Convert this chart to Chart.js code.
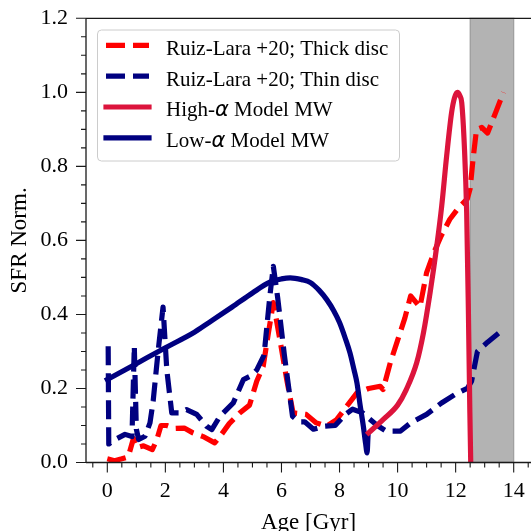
<!DOCTYPE html>
<html><head><meta charset="utf-8">
<script src="https://cdn.jsdelivr.net/npm/chart.js@4"></script>
<style>html,body{margin:0;padding:0;background:#fff;} canvas{display:block;}</style>
</head><body>
<canvas id="c" width="531" height="531"></canvas>
<script>
// ---- data ----
const thickAge = [0, 0.25, 0.5, 0.72, 0.9, 1.02, 1.25, 1.55, 1.7, 1.85, 2.05, 2.35, 2.65, 2.95, 3.3, 3.7, 3.88, 4.2, 4.55, 4.9, 5.15, 5.37, 5.55, 5.72, 5.95, 6.18, 6.4, 6.85, 7.2, 7.55, 7.9, 8.25, 8.6, 9.0, 9.4, 9.5, 9.75, 10.0, 10.25, 10.45, 10.77, 11.0, 11.25, 11.5, 11.8, 12.1, 12.4, 12.5, 12.6, 12.72, 12.9, 13.1, 13.4, 13.65];
const thickSFR = [0.01, 0.005, 0.01, 0.015, 0.065, 0.04, 0.045, 0.035, 0.06, 0.1, 0.1, 0.092, 0.093, 0.08, 0.07, 0.053, 0.07, 0.105, 0.133, 0.155, 0.22, 0.26, 0.35, 0.432, 0.33, 0.224, 0.134, 0.13, 0.107, 0.098, 0.116, 0.152, 0.188, 0.2, 0.206, 0.197, 0.27, 0.33, 0.39, 0.45, 0.42, 0.513, 0.567, 0.612, 0.657, 0.688, 0.712, 0.74, 0.82, 0.9, 0.905, 0.89, 0.95, 1.0];

const thinAge = [0.03, 0.05, 0.27, 0.61, 0.85, 0.93, 1.0, 1.08, 1.3, 1.47, 1.58, 1.75, 1.92, 2.05, 2.22, 2.5, 2.73, 3.08, 3.42, 3.6, 3.88, 4.34, 4.69, 4.97, 5.15, 5.4, 5.6, 5.72, 5.87, 6.1, 6.38, 6.6, 6.8, 7.1, 7.5, 7.85, 8.2, 8.45, 8.8, 9.0, 9.3, 9.6, 10.1, 10.45, 11.0, 11.5, 12.0, 12.4, 12.55, 12.75, 13.1, 13.65];
const thinSFR = [0.314, 0.05, 0.062, 0.076, 0.07, 0.314, 0.09, 0.062, 0.071, 0.107, 0.166, 0.3, 0.42, 0.25, 0.134, 0.134, 0.143, 0.13, 0.098, 0.089, 0.125, 0.161, 0.224, 0.235, 0.25, 0.29, 0.45, 0.53, 0.445, 0.29, 0.125, 0.11, 0.11, 0.09, 0.098, 0.1, 0.13, 0.144, 0.134, 0.12, 0.1, 0.085, 0.085, 0.107, 0.13, 0.16, 0.185, 0.2, 0.22, 0.3, 0.325, 0.36];

const highAge = [9.0, 9.5, 10.0, 10.3, 10.66, 10.89, 11.12, 11.35, 11.52, 11.69, 11.86, 11.96, 12.06, 12.15, 12.21, 12.3, 12.38, 12.44, 12.49, 12.52];
const highSFR = [0.08, 0.116, 0.155, 0.197, 0.27, 0.35, 0.459, 0.585, 0.693, 0.828, 0.945, 0.985, 1.0, 0.99, 0.972, 0.855, 0.675, 0.405, 0.134, 0.0];

const lowAge = [0, 1, 2, 3, 3.5, 4.3, 5.0, 5.6, 6.0, 6.3, 6.7, 7.0, 7.3, 7.56, 7.8, 8.0, 8.2, 8.36, 8.5, 8.6, 8.7, 8.82, 8.9, 8.95, 8.98];
const lowSFR = [0.224, 0.267, 0.31, 0.352, 0.378, 0.42, 0.458, 0.487, 0.496, 0.499, 0.494, 0.486, 0.465, 0.44, 0.41, 0.378, 0.335, 0.296, 0.25, 0.215, 0.16, 0.098, 0.05, 0.026, 0.07];

const xTicks = [0, 2, 4, 6, 8, 10, 12, 14];
const yTicks = [0.0, 0.2, 0.4, 0.6, 0.8, 1.0, 1.2];
const xMinorStep = 0.5;
const yMinorStep = 0.05;
const shadeRange = [12.5, 14];
const legendLabels = [
  ['Ruiz-Lara +20; Thick disc'],
  ['Ruiz-Lara +20; Thin disc'],
  ['High-', 'α', ' Model MW'],
  ['Low-', 'α', ' Model MW']
];

// ---- chart ----
const SERIF = '"Liberation Serif", "Times New Roman", serif';
const pts = (xs, ys) => xs.map((x, i) => ({x: x, y: ys[i]}));
const DASH = [19, 8];
const LW = 5.2;

const series = [
  {label: legendLabels[0].join(''), data: pts(thickAge, thickSFR), borderColor: '#ff0000', dash: DASH, order: 4, mono: false},
  {label: legendLabels[1].join(''), data: pts(thinAge, thinSFR), borderColor: '#000080', dash: DASH, order: 3, mono: false},
  {label: legendLabels[2].join(''), data: pts(highAge, highSFR), borderColor: '#dc143c', dash: [], order: 1, mono: true},
  {label: legendLabels[3].join(''), data: pts(lowAge, lowSFR), borderColor: '#000080', dash: [], order: 2, mono: true}
];

const shadePlugin = {
  id: 'shade',
  beforeDatasetsDraw(chart) {
    const {ctx, chartArea, scales} = chart;
    const x0 = scales.x.getPixelForValue(shadeRange[0]);
    const x1 = scales.x.getPixelForValue(shadeRange[1]);
    ctx.save();
    ctx.fillStyle = '#b3b3b3';
    ctx.fillRect(x0, chartArea.top, x1 - x0, chartArea.bottom - chartArea.top);
    ctx.strokeStyle = 'rgba(128,128,128,0.6)';
    ctx.lineWidth = 1.3;
    ctx.strokeRect(x0, chartArea.top, x1 - x0, chartArea.bottom - chartArea.top);
    ctx.restore();
  }
};

const axesPlugin = {
  id: 'axesDraw',
  afterDatasetsDraw(chart) {
    const {ctx, chartArea, scales} = chart;
    const xs = scales.x, ys = scales.y;
    const L = chartArea.left, T = chartArea.top, B = chartArea.bottom, R = chart.width;
    ctx.save();
    ctx.strokeStyle = '#1a1a1a';
    ctx.lineWidth = 1.3;
    ctx.beginPath();
    ctx.moveTo(L, T); ctx.lineTo(R, T);
    ctx.moveTo(L, T); ctx.lineTo(L, B);
    ctx.moveTo(L, B); ctx.lineTo(R, B);
    ctx.stroke();
    ctx.lineWidth = 1.1;
    ctx.beginPath();
    xTicks.forEach(v => { const p = xs.getPixelForValue(v); ctx.moveTo(p, B); ctx.lineTo(p, B + 10); });
    for (let v = Math.ceil(xs.min / xMinorStep) * xMinorStep; v <= xs.max; v += xMinorStep) {
      if (xTicks.some(t => Math.abs(t - v) < 1e-6)) continue;
      const p = xs.getPixelForValue(v); ctx.moveTo(p, B); ctx.lineTo(p, B + 5);
    }
    yTicks.forEach(v => { const p = ys.getPixelForValue(v); ctx.moveTo(L, p); ctx.lineTo(L - 10, p); });
    for (let i = 0; i * yMinorStep <= ys.max + 1e-9; i++) {
      const v = i * yMinorStep;
      if (yTicks.some(t => Math.abs(t - v) < 1e-6)) continue;
      const p = ys.getPixelForValue(v); ctx.moveTo(L, p); ctx.lineTo(L - 5, p);
    }
    ctx.stroke();
    ctx.restore();
  },
  afterDraw(chart) {
    const ctx = chart.ctx;
    ctx.save();
    const bx = 97.5, by = 30, bw = 302, bh = 131, r = 4;
    ctx.beginPath();
    ctx.moveTo(bx + r, by);
    ctx.arcTo(bx + bw, by, bx + bw, by + bh, r);
    ctx.arcTo(bx + bw, by + bh, bx, by + bh, r);
    ctx.arcTo(bx, by + bh, bx, by, r);
    ctx.arcTo(bx, by, bx + bw, by, r);
    ctx.closePath();
    ctx.fillStyle = 'rgba(255,255,255,0.8)';
    ctx.fill();
    ctx.strokeStyle = '#cccccc';
    ctx.lineWidth = 1;
    ctx.stroke();
    const baselines = [54.7, 85.5, 116.3, 147.1];
    series.forEach((s, i) => {
      const ly = baselines[i] - 9.3;
      ctx.beginPath();
      ctx.strokeStyle = s.borderColor;
      ctx.lineWidth = LW;
      ctx.setLineDash(s.dash);
      ctx.lineCap = s.dash.length ? 'butt' : 'square';
      ctx.moveTo(106, ly); ctx.lineTo(149, ly);
      ctx.stroke();
      ctx.setLineDash([]);
      let tx = 166;
      ctx.fillStyle = '#000';
      ctx.textBaseline = 'alphabetic';
      legendLabels[i].forEach(part => {
        ctx.font = part === 'α' ? 'italic 21px "DejaVu Sans"' : '21px ' + SERIF;
        ctx.fillText(part, tx, baselines[i]);
        tx += ctx.measureText(part).width;
      });
    });
    ctx.restore();
  }
};

const hiddenGrid = (len) => ({display: true, drawOnChartArea: false, drawTicks: true, tickLength: len, color: 'rgba(0,0,0,0)'});

new Chart(document.getElementById('c').getContext('2d'), {
  type: 'line',
  data: {
    datasets: series.map(s => ({
      label: s.label,
      data: s.data,
      borderColor: s.borderColor,
      backgroundColor: s.borderColor,
      borderWidth: LW,
      borderDash: s.dash,
      borderCapStyle: s.dash.length ? 'butt' : 'square',
      borderJoinStyle: 'round',
      pointRadius: 0,
      fill: false,
      tension: 0,
      cubicInterpolationMode: s.mono ? 'monotone' : 'default',
      order: s.order
    }))
  },
  options: {
    responsive: false,
    animation: false,
    devicePixelRatio: 1,
    layout: {padding: {top: 18.3, right: 0, left: 0, bottom: 0}},
    plugins: {legend: {display: false}, tooltip: {enabled: false}},
    scales: {
      x: {
        type: 'linear', min: -0.734, max: 14.596,
        grid: hiddenGrid(15.6), border: {display: false},
        ticks: {padding: 0, color: '#000', maxRotation: 0, autoSkip: false,
          font: {family: SERIF, size: 22}, callback: v => String(v)},
        afterBuildTicks: s => { s.ticks = xTicks.map(v => ({value: v})); },
        afterFit: s => { s.height = 68.5; },
        title: {display: true, text: 'Age [Gyr]', color: '#000', font: {family: SERIF, size: 23}, padding: {top: 0, bottom: -5.5}}
      },
      y: {
        type: 'linear', min: 0, max: 1.2,
        grid: hiddenGrid(18), border: {display: false},
        ticks: {padding: 0, color: '#000', autoSkip: false,
          font: {family: SERIF, size: 22}, callback: v => Number(v).toFixed(1)},
        afterBuildTicks: s => { s.ticks = yTicks.map(v => ({value: v})); },
        afterFit: s => { s.width = 86; },
        title: {display: true, text: 'SFR Norm.', color: '#000', font: {family: SERIF, size: 23}, padding: {top: 6, bottom: 0}}
      }
    }
  },
  plugins: [shadePlugin, axesPlugin]
});
</script>
</body></html>
